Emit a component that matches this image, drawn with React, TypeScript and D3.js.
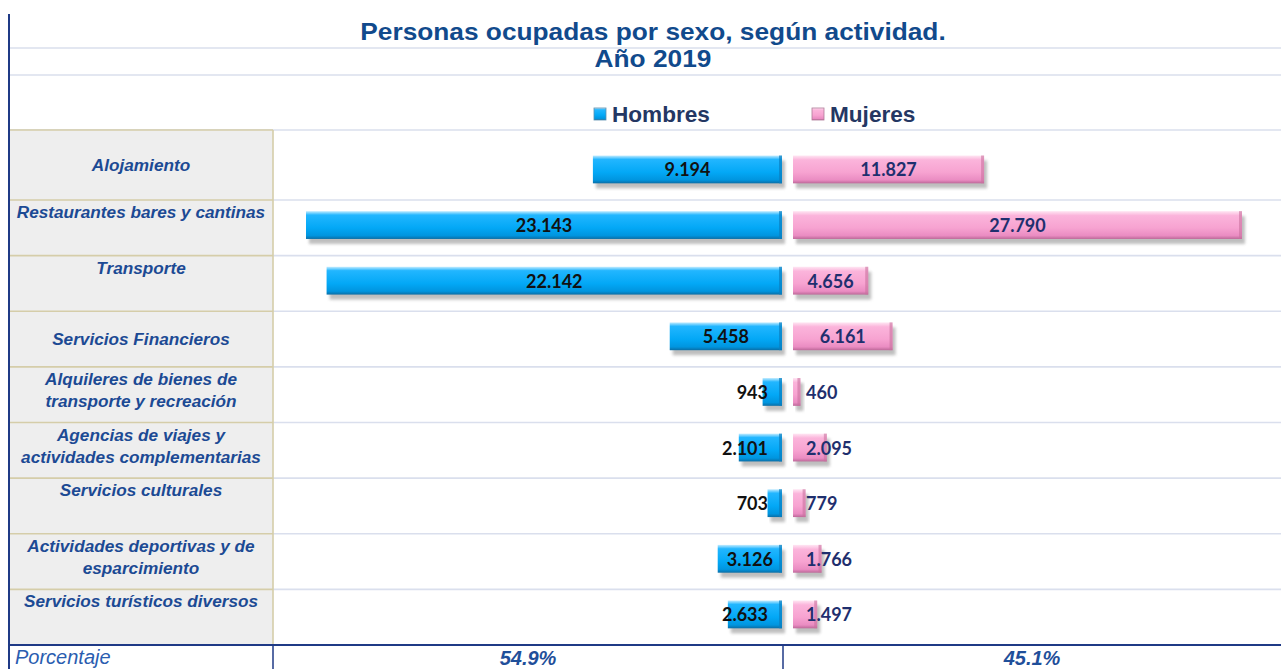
import React from "react";
import * as d3 from "d3";

// ---------- data ----------
const titleLines = ["Personas ocupadas por sexo, según actividad.", "Año 2019"];
const categories = [
  "Alojamiento",
  "Restaurantes bares y cantinas",
  "Transporte",
  "Servicios Financieros",
  "Alquileres de bienes de transporte y recreación",
  "Agencias de viajes y actividades complementarias",
  "Servicios culturales",
  "Actividades deportivas y de esparcimiento",
  "Servicios turísticos diversos",
];
const categoryLines = [
  ["Alojamiento"],
  ["Restaurantes bares y cantinas"],
  ["Transporte"],
  ["Servicios Financieros"],
  ["Alquileres de bienes de", "transporte y recreación"],
  ["Agencias de viajes y", "actividades complementarias"],
  ["Servicios culturales"],
  ["Actividades deportivas y de", "esparcimiento"],
  ["Servicios turísticos diversos"],
];
const labelValign = ["middle", "top", "top", "middle", "top", "top", "top", "top", "top"];
const hombres = [9194, 23143, 22142, 5458, 943, 2101, 703, 3126, 2633];
const mujeres = [11827, 27790, 4656, 6161, 460, 2095, 779, 1766, 1497];
const seriesNames = ["Hombres", "Mujeres"];
const footerLabel = "Porcentaje";

// ---------- layout ----------
const W = 1281;
const H = 669;
const frameX = 9;
const labelColR = 273;
const menAxisX = 782;
const womenAxisX = 793;
const dividerX = 783;
const menMinX = 306;
const womenMaxX = 1242;
const headerLines = [48, 75];
const tableTop = 130;
const rowsTop = 144.4;
const rowsBottom = 645;

const BLUE_TEXT = "#1c4a94";

const esLocale = d3.formatLocale({ decimal: ",", thousands: ".", grouping: [3], currency: ["", ""] });
const fmt = esLocale.format(",d");
const pct = d3.format(".1%");

export default function App() {
  const y = d3.scaleBand<string>().domain(categories).range([rowsTop, rowsBottom]).paddingInner(0).paddingOuter(0);
  const bw = y.bandwidth();
  const xMen = d3.scaleLinear().domain([0, d3.max(hombres) as number]).range([menAxisX, menMinX]);
  const xWomen = d3.scaleLinear().domain([0, d3.max(mujeres) as number]).range([womenAxisX, womenMaxX]);

  const totalM = d3.sum(hombres);
  const totalW = d3.sum(mujeres);
  const total = totalM + totalW;

  const cellTop = (i: number) => (i === 0 ? tableTop : (y(categories[i]) as number));
  const cellBottom = (i: number) => (y(categories[i]) as number) + bw;

  const textW = (s: string) => s.length * 9.6;

  return (
    <svg
      width={W}
      height={H}
      style={{ position: "absolute", left: 0, top: 0, display: "block", background: "#fff" }}
      fontFamily="'Liberation Sans', Arial, sans-serif"
    >
      <defs>
        <linearGradient id="gBlue" x1="0" y1="0" x2="0" y2="1">
          <stop offset="0" stopColor="#c4ecff" />
          <stop offset="0.14" stopColor="#22b6ff" />
          <stop offset="0.6" stopColor="#03a8f6" />
          <stop offset="0.88" stopColor="#0095df" />
          <stop offset="1" stopColor="#0a6ea6" />
        </linearGradient>
        <linearGradient id="gPink" x1="0" y1="0" x2="0" y2="1">
          <stop offset="0" stopColor="#ffe6f3" />
          <stop offset="0.16" stopColor="#fbb4db" />
          <stop offset="0.6" stopColor="#f7a3d1" />
          <stop offset="0.88" stopColor="#ea8cc2" />
          <stop offset="1" stopColor="#bd6899" />
        </linearGradient>
        <filter id="shadow" x="-10%" y="-50%" width="120%" height="200%">
          <feGaussianBlur stdDeviation="1.6" />
        </filter>
      </defs>

      {/* header grid lines */}
      {[...headerLines, tableTop].map((ly, i) => (
        <line key={"h" + i} x1={frameX} x2={W} y1={ly} y2={ly} stroke="#dadfed" strokeWidth={1.6} />
      ))}

      {/* label column background */}
      <rect x={frameX} y={tableTop} width={labelColR - frameX} height={rowsBottom - tableTop} fill="#eeeeee" />

      {/* row separators */}
      {categories.slice(1).map((c, i) => (
        <g key={"r" + i}>
          <line x1={labelColR} x2={W} y1={y(c) as number} y2={y(c) as number} stroke="#dadfed" strokeWidth={1.6} />
          <line x1={frameX} x2={labelColR} y1={y(c) as number} y2={y(c) as number} stroke="#d5cda9" strokeWidth={1.6} />
        </g>
      ))}
      <line x1={frameX} x2={labelColR} y1={tableTop} y2={tableTop} stroke="#d5cda9" strokeWidth={1.6} />
      <line x1={labelColR} x2={labelColR} y1={tableTop} y2={rowsBottom} stroke="#d5cda9" strokeWidth={1.6} />

      {/* title */}
      {titleLines.map((t, i) => (
        <text
          key={"t" + i}
          transform={`translate(653,${40 + i * 27}) scale(1.095,1)`}
          textAnchor="middle"
          fontSize={24}
          fontWeight="bold"
          fill="#114a8c"
        >
          {t}
        </text>
      ))}

      {/* legend */}
      {seriesNames.map((s, i) => {
        const lx = i === 0 ? 594 : 812;
        return (
          <g key={"l" + i}>
            <rect x={lx} y={108} width={12} height={12} fill={i === 0 ? "url(#gBlue)" : "url(#gPink)"} stroke={i === 0 ? "#5a8fb0" : "#b07a98"} strokeWidth={0.8} />
            <text x={lx + 18} y={122} fontSize={22.6} fontWeight="bold" fill="#243763">
              {s}
            </text>
          </g>
        );
      })}

      {/* category labels */}
      {categoryLines.map((lines, i) => {
        const top = cellTop(i);
        const bot = cellBottom(i);
        const lh = 22;
        let base: number;
        if (labelValign[i] === "middle") {
          base = (top + bot) / 2 - ((lines.length - 1) * lh) / 2 + 6;
        } else {
          base = top + 18;
        }
        return (
          <text key={"c" + i} x={(frameX + labelColR) / 2} textAnchor="middle" fontSize={17.2} fontWeight="bold" fontStyle="italic" fill={BLUE_TEXT}>
            {lines.map((ln, j) => (
              <tspan key={j} x={(frameX + labelColR) / 2} y={base + j * lh}>
                {ln}
              </tspan>
            ))}
          </text>
        );
      })}

      {/* bars */}
      {categories.map((c, i) => {
        const by = (y(c) as number) + bw * 0.2;
        const bh = bw * 0.5;
        const m = hombres[i];
        const w = mujeres[i];
        const mx = xMen(m);
        const mw = menAxisX - mx;
        const wx = xWomen(w);
        const ww = wx - womenAxisX;
        const cy = by + bh / 2;
        const mLabel = fmt(m);
        const wLabel = fmt(w);
        const mInside = mw >= textW(mLabel) + 8;
        const wInside = ww >= textW(wLabel) + 8;
        return (
          <g key={"b" + i}>
            <rect x={mx + 3} y={by + 5} width={mw} height={bh} fill="#8a8a8a" opacity={0.55} filter="url(#shadow)" />
            <rect x={womenAxisX + 3} y={by + 5} width={ww} height={bh} fill="#8a8a8a" opacity={0.55} filter="url(#shadow)" />
            <rect x={mx} y={by} width={mw} height={bh} fill="url(#gBlue)" />
            <rect x={menAxisX - Math.min(3, mw)} y={by} width={Math.min(3, mw)} height={bh} fill="#0a7fc0" opacity={0.7} />
            <rect x={womenAxisX} y={by} width={ww} height={bh} fill="url(#gPink)" />
            <rect x={wx - Math.min(3, ww)} y={by} width={Math.min(3, ww)} height={bh} fill="#c9719f" opacity={0.6} />
            <text
              x={mInside ? (mx + menAxisX) / 2 : menAxisX - 14}
              y={cy + 7}
              textAnchor={mInside ? "middle" : "end"}
              fontFamily="Lato, 'Open Sans', sans-serif"
              fontWeight="bold"
              fontSize={18}
              fill="#111111"
            >
              {mLabel}
            </text>
            <text
              x={wInside ? (womenAxisX + wx) / 2 : womenAxisX + 13}
              y={cy + 7}
              textAnchor={wInside ? "middle" : "start"}
              fontFamily="Lato, 'Open Sans', sans-serif"
              fontWeight="bold"
              fontSize={18}
              fill="#1f2f6e"
            >
              {wLabel}
            </text>
          </g>
        );
      })}

      {/* footer frame */}
      <line x1={frameX} x2={W} y1={rowsBottom} y2={rowsBottom} stroke="#1f3a86" strokeWidth={2} />
      <line x1={labelColR} x2={labelColR} y1={rowsBottom} y2={H} stroke="#1f3a86" strokeWidth={1.5} />
      <line x1={dividerX} x2={dividerX} y1={rowsBottom} y2={H} stroke="#1f3a86" strokeWidth={1.5} />
      <line x1={frameX} x2={frameX} y1={14} y2={H} stroke="#1f3a86" strokeWidth={2} />

      <text x={15} y={664} fontSize={20} fontStyle="italic" fill="#2a5db0">
        {footerLabel}
      </text>
      <text x={(labelColR + dividerX) / 2} y={665} textAnchor="middle" fontSize={20} fontWeight="bold" fontStyle="italic" fill="#1f4f9a">
        {pct(totalM / total)}
      </text>
      <text x={(dividerX + W) / 2} y={665} textAnchor="middle" fontSize={20} fontWeight="bold" fontStyle="italic" fill="#1f4f9a">
        {pct(totalW / total)}
      </text>
    </svg>
  );
}
